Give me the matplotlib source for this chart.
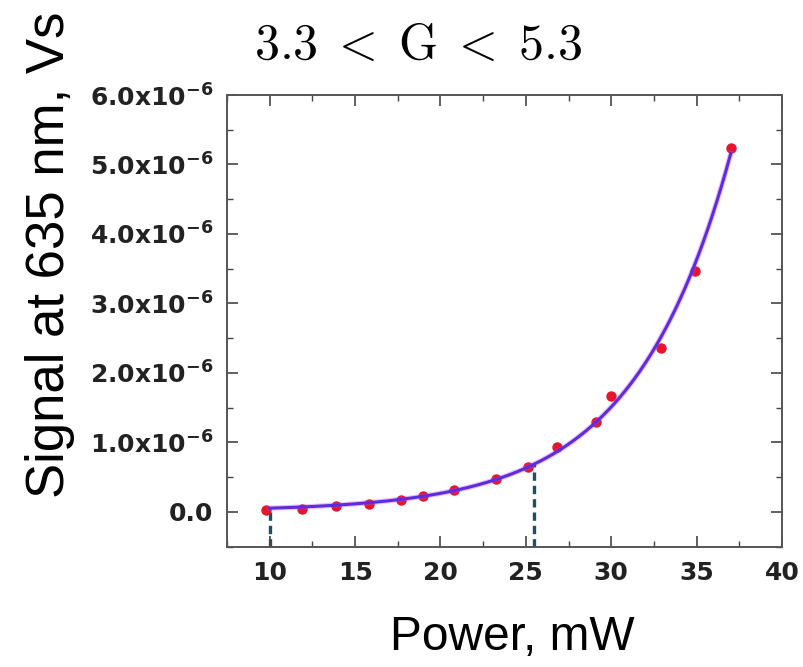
import numpy as np
import matplotlib
matplotlib.use('Agg')
from matplotlib import pyplot as plt
from matplotlib.ticker import FuncFormatter, MultipleLocator

# measured points (power in mW, signal in Vs)
power = [9.8, 11.9, 13.9, 15.8, 17.7, 19.0, 20.8, 23.25, 25.1, 26.85, 29.1, 30.0, 32.9, 34.9, 37.0]
signal_e6 = [0.03, 0.04, 0.08, 0.12, 0.17, 0.23, 0.32, 0.48, 0.65, 0.94, 1.29, 1.67, 2.36, 3.47, 5.24]
signal = [s * 1e-6 for s in signal_e6]

# dashed guide lines (x positions)
guide_x = [10.0, 25.5]

x = np.array(power)
y = np.array(signal)

# exponential fit  y = A*exp(x/t) + y0, t by grid search, A and y0 by least squares
best = None
for t in np.linspace(3.0, 9.0, 601):
    M = np.column_stack([np.exp(x / t), np.ones_like(x)])
    coef, res, _, _ = np.linalg.lstsq(M, y, rcond=None)
    err = np.sum((M @ coef - y) ** 2)
    if best is None or err < best[0]:
        best = (err, t, coef)
_, t_fit, (A_fit, y0_fit) = best

def fit(xx):
    return A_fit * np.exp(np.asarray(xx) / t_fit) + y0_fit

fig = plt.figure(figsize=(8.04, 6.67), dpi=100)
ax = fig.add_axes([227 / 804, 1 - 546.7 / 667, (782 - 227) / 804, (546.7 - 95) / 667])

xf = np.linspace(10, 37, 300)
ax.plot(power, signal, 'o', color='#e3162c', ms=7.5, mec='none', zorder=2)
ax.plot(xf, fit(xf), color='#d040e0', lw=3.8, alpha=0.35, zorder=3)
ax.plot(xf, fit(xf), color='#5a2de0', lw=2.2, zorder=4)

for gx in guide_x:
    ax.plot([gx, gx], [-0.5e-6, fit(gx)], color='#1d4f6a', lw=2.4,
            ls=(0, (2.5, 1.5)), zorder=1)

ax.set_xlim(7.5, 40)
ax.set_ylim(-0.5e-6, 6.0e-6)
ax.xaxis.set_major_locator(MultipleLocator(5))
ax.xaxis.set_minor_locator(MultipleLocator(2.5))
ax.yaxis.set_major_locator(MultipleLocator(1e-6))
ax.yaxis.set_minor_locator(MultipleLocator(0.5e-6))

def ylab(v, pos):
    if abs(v) < 1e-12:
        return '0.0'
    return '%.1fx10$^{\\mathbf{-6}}$' % (v * 1e6)

ax.yaxis.set_major_formatter(FuncFormatter(ylab))
ax.tick_params(which='both', direction='in', top=True, right=True, color='#444444')
ax.tick_params(which='major', length=8, width=1.2, labelsize=18, pad=10)
ax.tick_params(which='minor', length=4, width=1.0)
for lab in ax.get_xticklabels() + ax.get_yticklabels():
    lab.set_fontweight('bold')
    lab.set_color('#222222')
for sp in ax.spines.values():
    sp.set_color('#555555')
    sp.set_linewidth(1.4)

fig.text(0.062, 1 - 255 / 667, 'Signal at 635 nm, Vs', rotation=90, ha='center', va='center',
         fontsize=38, family='Liberation Sans')
fig.text(512 / 804, 1 - 637 / 667, 'Power, mW', ha='center', va='center',
         fontsize=34.5, family='Liberation Sans')
fig.text(418 / 804, 1 - 45 / 667, r'$3.3\;<\;\mathrm{G}\;<\;5.3$', ha='center', va='center',
         fontsize=36, math_fontfamily='cm')

fig.savefig('out.png', dpi=100)
